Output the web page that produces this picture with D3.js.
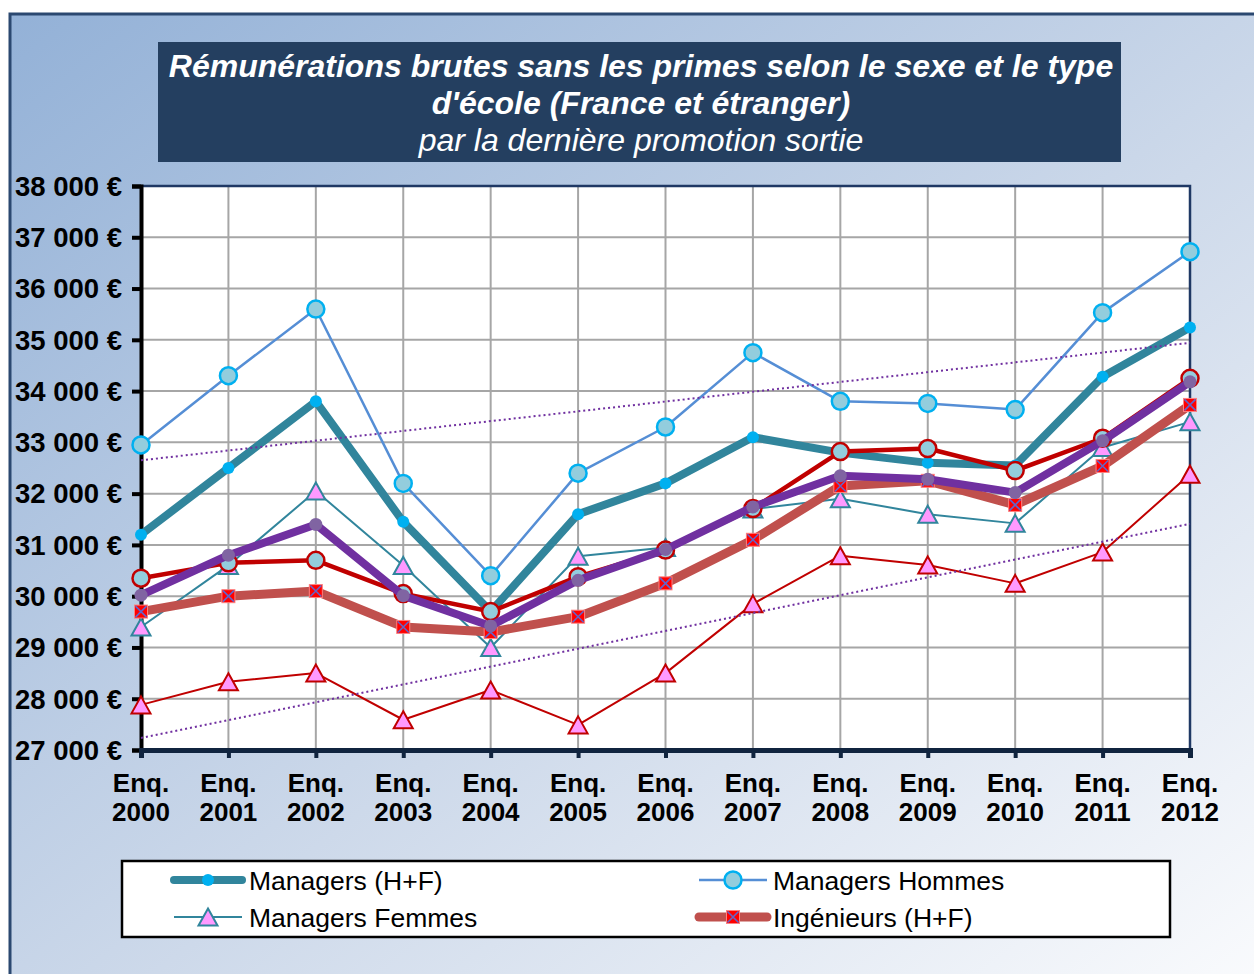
<!DOCTYPE html>
<html lang="fr">
<head>
<meta charset="utf-8">
<script src="https://cdn.jsdelivr.net/npm/d3@7/dist/d3.min.js"></script>
<style>
  html, body { margin: 0; padding: 0; background: #ffffff; }
  svg { display: block; }
  text { font-family: "Liberation Sans", Arial, sans-serif; }
</style>
</head>
<body>
<svg id="chart" width="1254" height="974"></svg>
<script>
// Survey years (x axis) and tick values (y axis)
const years = [2000, 2001, 2002, 2003, 2004, 2005, 2006, 2007, 2008, 2009, 2010, 2011, 2012];
const xPrefix = "Enq.";
const yTicks = [27000, 28000, 29000, 30000, 31000, 32000, 33000, 34000, 35000, 36000, 37000, 38000];

// Gross pay without bonuses, in euros, per survey year
const managersHF       = [31200, 32500, 33800, 31450, 29700, 31600, 32200, 33100, 32800, 32600, 32550, 34280, 35240];
const managersHommes   = [32950, 34300, 35600, 32200, 30400, 32400, 33300, 34750, 33800, 33760, 33640, 35530, 36720];
const managersFemmes   = [29400, 30600, 32050, 30600, 29000, 30780, 30950, 31700, 31900, 31600, 31420, 32900, 33400];
const ingenieursHF     = [29700, 30000, 30100, 29400, 29300, 29600, 30250, 31100, 32150, 32250, 31780, 32540, 33730];
const ingenieursHommes = [30350, 30650, 30700, 30050, 29700, 30380, 30900, 31710, 32820, 32880, 32450, 33080, 34250];
const ingenieursFemmes = [27880, 28330, 28500, 27590, 28170, 27490, 28500, 29850, 30790, 30610, 30250, 30860, 32380];
const ensembleHF       = [30020, 30800, 31400, 30010, 29420, 30310, 30910, 31740, 32350, 32280, 32020, 33030, 34180];

const titleLines = [
  "Rémunérations brutes sans les primes selon le sexe et le type",
  "d'école (France et étranger)",
  "par la dernière promotion sortie"
];

// Series styles, in drawing order
const series = [
  { name: "Managers (H+F)",    values: managersHF,       stroke: "#31859C", width: 8,   marker: "dot",      fill: "#00B0F0", mstroke: "none",    legend: 0 },
  { name: "Managers Hommes",   values: managersHommes,   stroke: "#558ED5", width: 2.5, marker: "circle",   fill: "#93CDDD", mstroke: "#00B0F0", legend: 1 },
  { name: "Managers Femmes",   values: managersFemmes,   stroke: "#31859C", width: 2,   marker: "triangle", fill: "#FF99FF", mstroke: "#31859C", legend: 2 },
  { name: "Ingénieurs (H+F)",  values: ingenieursHF,     stroke: "#C0504D", width: 9,   marker: "square",   fill: "#FF0000", mstroke: "#FF8080", legend: 3 },
  { name: "Ingénieurs Hommes", values: ingenieursHommes, stroke: "#C00000", width: 4.5, marker: "circle",   fill: "#93CDDD", mstroke: "#C00000", legend: -1 },
  { name: "Ingénieurs Femmes", values: ingenieursFemmes, stroke: "#C00000", width: 2,   marker: "triangle", fill: "#FF99FF", mstroke: "#C00000", legend: -1 },
  { name: "Ensemble (H+F)",    values: ensembleHF,       stroke: "#7030A0", width: 8,   marker: "pdot",     fill: "#8064A2", mstroke: "none",    legend: -1 }
];

// Linear trend lines drawn for these series
const trendSeries = [managersHommes, ingenieursFemmes];

(function draw() {
  const svg = d3.select("#chart");
  const W = 1254, H = 974;

  // Background gradient and outer frame
  const defs = svg.append("defs");
  const grad = defs.append("linearGradient").attr("id", "bg")
    .attr("x1", 0).attr("y1", 0).attr("x2", 1).attr("y2", 1);
  grad.append("stop").attr("offset", "0%").attr("stop-color", "#93B1D7");
  grad.append("stop").attr("offset", "55%").attr("stop-color", "#CDD9EA");
  grad.append("stop").attr("offset", "100%").attr("stop-color", "#FAFBFD");

  svg.append("rect").attr("width", W).attr("height", H).attr("fill", "#ffffff");
  svg.append("rect").attr("x", 10).attr("y", 14).attr("width", W).attr("height", H)
    .attr("fill", "url(#bg)").attr("stroke", "#2B4870").attr("stroke-width", 3);

  // Title block
  svg.append("rect").attr("x", 158).attr("y", 42).attr("width", 963).attr("height", 120)
    .attr("fill", "#243F60");
  const titleX = 641;
  const titleY = [77, 114, 151];
  titleLines.forEach((t, i) => {
    svg.append("text").attr("x", titleX).attr("y", titleY[i])
      .attr("text-anchor", "middle").attr("fill", "#ffffff")
      .attr("font-size", 32).attr("font-style", "italic")
      .attr("font-weight", i < 2 ? "bold" : "normal")
      .text(t);
  });

  // Scales
  const pL = 141, pR = 1190, pT = 186, pB = 750;
  const x = d3.scalePoint().domain(years).range([pL, pR]).padding(0);
  const y = d3.scaleLinear().domain([27000, 38000]).range([pB, pT]);

  // Plot area
  svg.append("rect").attr("x", pL).attr("y", pT).attr("width", pR - pL).attr("height", pB - pT)
    .attr("fill", "#ffffff");

  // Gridlines
  const grid = svg.append("g");
  grid.selectAll("line.h").data(yTicks.filter(d => d > 27000 && d < 38000)).join("line")
    .attr("class", "h")
    .attr("x1", pL).attr("x2", pR).attr("y1", d => y(d)).attr("y2", d => y(d))
    .attr("stroke", "#A6A6A6").attr("stroke-width", 2);
  grid.selectAll("line.v").data(years.slice(1, -1)).join("line")
    .attr("class", "v")
    .attr("x1", d => x(d)).attr("x2", d => x(d)).attr("y1", pT).attr("y2", pB)
    .attr("stroke", "#A6A6A6").attr("stroke-width", 2);

  // Plot border (top and right)
  svg.append("path").attr("d", `M${pL},${pT}H${pR}V${pB}`)
    .attr("fill", "none").attr("stroke", "#1F3864").attr("stroke-width", 2.5);

  // Y axis
  const fmt = d => d3.format(",")(d).replace(/,/g, " ") + " €";
  const yAxis = d3.axisLeft(y).tickValues(yTicks).tickSize(9).tickPadding(10).tickFormat(fmt);
  const gy = svg.append("g").attr("transform", `translate(${pL},0)`).call(yAxis);
  gy.select(".domain").attr("stroke", "#000000").attr("stroke-width", 4);
  gy.selectAll(".tick line").attr("stroke", "#000000").attr("stroke-width", 4);
  gy.selectAll(".tick text").attr("font-size", 27.5).attr("font-weight", "bold")
    .attr("fill", "#000000").attr("font-family", "'Liberation Sans', Arial, sans-serif")
    .attr("dy", "0.34em");

  // X axis
  const xAxis = d3.axisBottom(x).tickSize(8).tickFormat("");
  const gx = svg.append("g").attr("transform", `translate(0,${pB})`).call(xAxis);
  gx.select(".domain").attr("stroke", "#10243F").attr("stroke-width", 5);
  gx.selectAll(".tick line").attr("stroke", "#10243F").attr("stroke-width", 4);
  const xl = svg.append("g").selectAll("text").data(years).join("text")
    .attr("x", d => x(d)).attr("text-anchor", "middle")
    .attr("font-size", 26).attr("font-weight", "bold").attr("fill", "#000000");
  xl.append("tspan").attr("x", d => x(d)).attr("y", 792).text(xPrefix);
  xl.append("tspan").attr("x", d => x(d)).attr("y", 821).text(d => d);

  // Marker drawing
  function drawMarker(g, s, cx, cy) {
    if (s.marker === "dot") {
      g.append("circle").attr("cx", cx).attr("cy", cy).attr("r", 6).attr("fill", s.fill);
    } else if (s.marker === "pdot") {
      g.append("circle").attr("cx", cx).attr("cy", cy).attr("r", 6.5).attr("fill", s.fill);
    } else if (s.marker === "circle") {
      g.append("circle").attr("cx", cx).attr("cy", cy).attr("r", 8.5)
        .attr("fill", s.fill).attr("stroke", s.mstroke).attr("stroke-width", 2.5);
    } else if (s.marker === "triangle") {
      g.append("path").attr("d", `M${cx},${cy - 8.5}L${cx + 9.5},${cy + 8.5}L${cx - 9.5},${cy + 8.5}Z`)
        .attr("fill", s.fill).attr("stroke", s.mstroke).attr("stroke-width", 2).attr("stroke-linejoin", "miter");
    } else if (s.marker === "square") {
      const h = 6.5;
      g.append("rect").attr("x", cx - h).attr("y", cy - h).attr("width", 2 * h).attr("height", 2 * h)
        .attr("fill", s.fill).attr("stroke", s.mstroke).attr("stroke-width", 1);
      g.append("path").attr("d", `M${cx - h + 1},${cy - h + 1}L${cx + h - 1},${cy + h - 1}M${cx + h - 1},${cy - h + 1}L${cx - h + 1},${cy + h - 1}`)
        .attr("stroke", "#6464C8").attr("stroke-width", 1.6);
    }
  }

  // Series lines and markers
  const line = d3.line().x((d, i) => x(years[i])).y(d => y(d));
  series.forEach(s => {
    const g = svg.append("g");
    g.append("path").datum(s.values).attr("d", line)
      .attr("fill", "none").attr("stroke", s.stroke).attr("stroke-width", s.width)
      .attr("stroke-linejoin", "round").attr("stroke-linecap", "round");
    s.values.forEach((v, i) => drawMarker(g, s, x(years[i]), y(v)));
  });

  // Least-squares trend lines
  trendSeries.forEach(vals => {
    const n = vals.length;
    const idx = d3.range(n);
    const mx = d3.mean(idx), my = d3.mean(vals);
    const slope = d3.sum(idx, i => (i - mx) * (vals[i] - my)) / d3.sum(idx, i => (i - mx) * (i - mx));
    const fit = i => my + slope * (i - mx);
    svg.append("line")
      .attr("x1", x(years[0])).attr("y1", y(fit(0)))
      .attr("x2", x(years[n - 1])).attr("y2", y(fit(n - 1)))
      .attr("stroke", "#7030A0").attr("stroke-width", 2).attr("stroke-dasharray", "2,3");
  });

  // Legend
  svg.append("rect").attr("x", 122).attr("y", 861).attr("width", 1048).attr("height", 76)
    .attr("fill", "#ffffff").attr("stroke", "#000000").attr("stroke-width", 2.5);
  const legendPos = [
    { x1: 174, x2: 242, tx: 249, cy: 880 },
    { x1: 699, x2: 767, tx: 773, cy: 880 },
    { x1: 174, x2: 242, tx: 249, cy: 917 },
    { x1: 699, x2: 767, tx: 773, cy: 917 }
  ];
  series.filter(s => s.legend >= 0).forEach(s => {
    const p = legendPos[s.legend];
    const g = svg.append("g");
    g.append("line").attr("x1", p.x1).attr("x2", p.x2).attr("y1", p.cy).attr("y2", p.cy)
      .attr("stroke", s.stroke).attr("stroke-width", s.width)
      .attr("stroke-linecap", s.width > 5 ? "round" : "butt");
    drawMarker(g, s, (p.x1 + p.x2) / 2, p.cy);
    g.append("text").attr("x", p.tx).attr("y", p.cy + 9.5)
      .attr("font-size", 26.5).attr("fill", "#000000").text(s.name);
  });
})();
</script>
</body>
</html>
